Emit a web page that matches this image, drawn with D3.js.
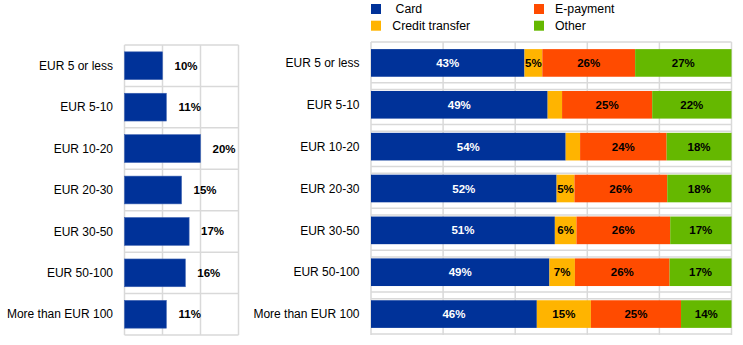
<!DOCTYPE html>
<html><head><meta charset="utf-8">
<script src="https://cdn.jsdelivr.net/npm/d3@7/dist/d3.min.js"></script>
<style>body{margin:0;background:#fff;}svg{display:block;font-family:"Liberation Sans",Arial,sans-serif;}</style>
</head><body><svg id="c" width="743" height="345"></svg>
<script>
const categories = ["EUR 5 or less","EUR 5-10","EUR 10-20","EUR 20-30","EUR 30-50","EUR 50-100","More than EUR 100"];
const shareValues = [10,11,20,15,17,16,11];
const seriesNames = ["Card","Credit transfer","E-payment","Other"];
const card = [43,49,54,52,51,49,46];
const creditTransfer = [5,4,4,5,6,7,15];
const ePayment = [26,25,24,26,26,26,25];
const other = [27,22,18,18,17,17,14];
const colors = ["#003299","#FFB400","#FF4B00","#65B800"];
const leftTicks = [0,10,20,30];
const rightTicks = [0,20,40,60,80,100];

const svg = d3.select("#c");
const grid = "#d9d9d9";

// ---------- left panel ----------
const xL = d3.scaleLinear().domain([0,30]).range([124.5,238.5]);
const yL = d3.scaleBand().domain(categories).range([45,335]).paddingInner(0.33).paddingOuter(0.165);
const stepL = yL.step();
const gL = svg.append("g");
gL.selectAll("line.v").data(leftTicks).join("line")
  .attr("x1",d=>xL(d)).attr("x2",d=>xL(d)).attr("y1",45).attr("y2",335)
  .attr("stroke",grid).attr("stroke-width",1.5);
gL.selectAll("line.h").data(d3.range(categories.length+1)).join("line")
  .attr("x1",xL(0)).attr("x2",xL(30))
  .attr("y1",i=>45+i*stepL).attr("y2",i=>45+i*stepL)
  .attr("stroke",grid).attr("stroke-width",1.5);
gL.selectAll("rect").data(shareValues).join("rect")
  .attr("x",xL(0)).attr("y",(d,i)=>yL(categories[i]))
  .attr("width",d=>xL(d)-xL(0)).attr("height",yL.bandwidth())
  .attr("fill",colors[0]).attr("stroke","#3a5fb0").attr("stroke-width",0.6);
gL.selectAll("text.val").data(shareValues).join("text")
  .attr("x",d=>xL(d)+23.5).attr("y",(d,i)=>yL(categories[i])+yL.bandwidth()/2)
  .attr("dy","0.35em").attr("text-anchor","middle")
  .attr("font-size",11.5).attr("font-weight","bold").attr("fill","#000")
  .text(d=>d+"%");
gL.selectAll("text.cat").data(categories).join("text")
  .attr("x",113).attr("y",d=>yL(d)+yL.bandwidth()/2).attr("dy","0.35em")
  .attr("text-anchor","end").attr("font-size",12).attr("fill","#000").text(d=>d);

// ---------- right panel ----------
const xR = d3.scaleLinear().domain([0,100]).range([371,731.5]);
const yR = d3.scaleBand().domain(categories).range([42,335]).paddingInner(0.34).paddingOuter(0.17);
const gR = svg.append("g");
gR.selectAll("line.v").data(rightTicks).join("line")
  .attr("x1",d=>xR(d)).attr("x2",d=>xR(d)).attr("y1",42).attr("y2",335)
  .attr("stroke",grid).attr("stroke-width",1.5);
const hLines = [];
categories.forEach((c,i)=>{
  hLines.push(yR(c)+yR.bandwidth()+6);
  if(i>0) hLines.push(yR(c)-1.5);
});
hLines.push(42);
gR.selectAll("line.h").data(hLines).join("line")
  .attr("x1",xR(0)).attr("x2",xR(100)).attr("y1",d=>d).attr("y2",d=>d)
  .attr("stroke",grid).attr("stroke-width",1.5);

const series = [card,creditTransfer,ePayment,other];
categories.forEach((c,i)=>{
  const vals = series.map(s=>s[i]);
  const total = d3.sum(vals);
  let cum = 0;
  vals.forEach((v,j)=>{
    const x0 = xR(cum/total*100), x1 = xR((cum+v)/total*100);
    cum += v;
    gR.append("rect").attr("x",x0).attr("y",yR(c)).attr("width",x1-x0).attr("height",yR.bandwidth())
      .attr("fill",colors[j]);
    if(v>=5){
      gR.append("text").attr("x",(x0+x1)/2).attr("y",yR(c)+yR.bandwidth()/2).attr("dy","0.35em")
        .attr("text-anchor","middle").attr("font-size",11.5).attr("font-weight","bold")
        .attr("fill",j===0?"#fff":"#000").text(v+"%");
    }
  });
});
gR.selectAll("text.cat").data(categories).join("text")
  .attr("x",359.5).attr("y",d=>yR(d)+yR.bandwidth()/2).attr("dy","0.35em")
  .attr("text-anchor","end").attr("font-size",12).attr("fill","#000").text(d=>d);

// ---------- legend ----------
const legendPos = [{x:371,y:4,tx:395.5},{x:371,y:20.7,tx:392.3},{x:534,y:4,tx:555},{x:534,y:20.7,tx:555}];
const legendOrder = [0,1,2,3];
const gLeg = svg.append("g");
legendOrder.forEach((j,k)=>{
  const p = legendPos[k];
  gLeg.append("rect").attr("x",p.x).attr("y",p.y).attr("width",10).attr("height",10).attr("fill",colors[j]);
  gLeg.append("text").attr("x",p.tx).attr("y",p.y+5).attr("dy","0.35em").attr("font-size",12.3)
    .attr("fill","#000").text(seriesNames[j]);
});
</script></body></html>
